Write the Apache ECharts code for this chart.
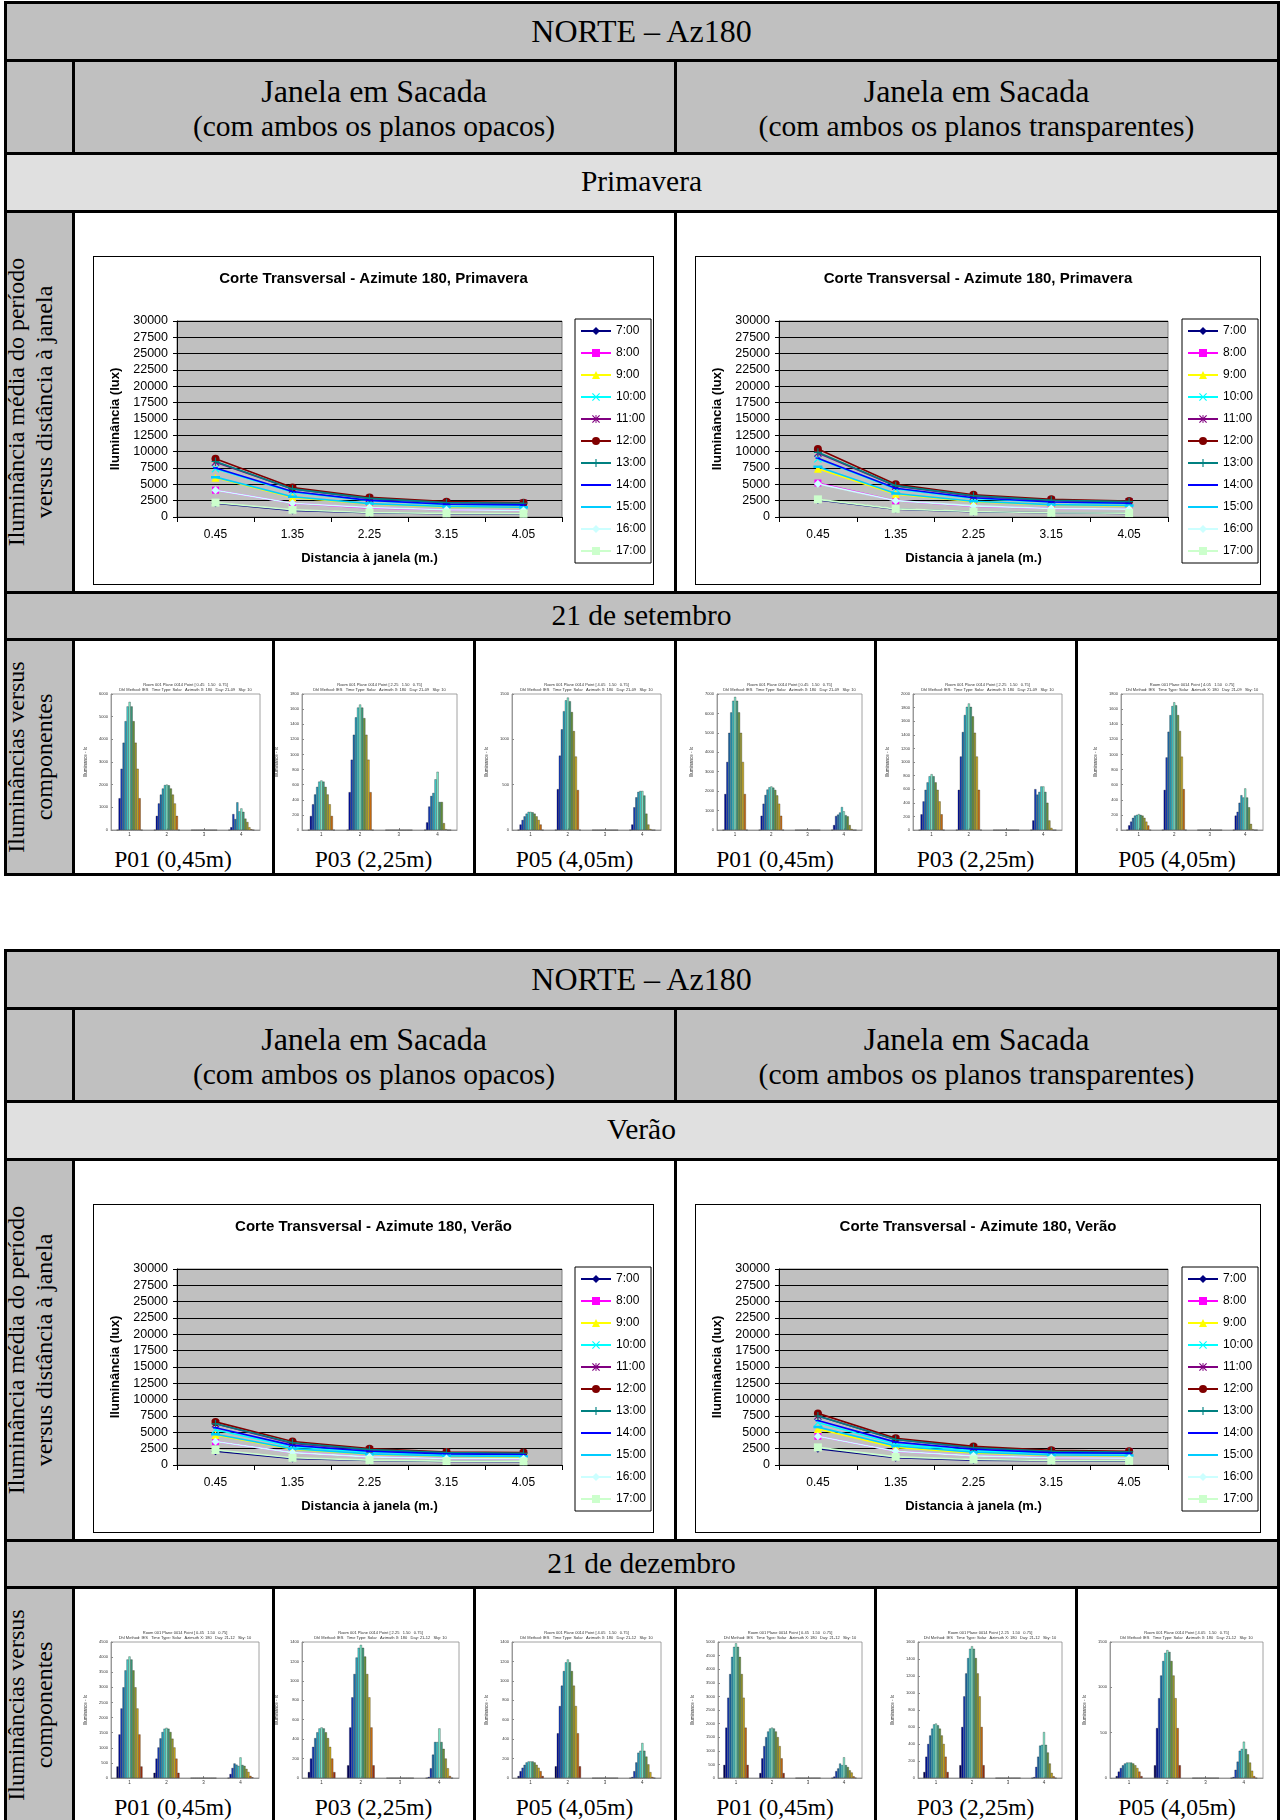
<!DOCTYPE html>
<html><head><meta charset="utf-8">
<script src="https://cdn.jsdelivr.net/npm/echarts@6/dist/echarts.min.js"></script>
<style>
html,body{margin:0;padding:0;background:#fff;}
body{width:1284px;height:1820px;overflow:hidden;position:relative;font-family:'Liberation Serif','Times New Roman',serif;}
.r{position:absolute;}
.t{position:absolute;transform:translate(-50%,-50%);white-space:nowrap;text-align:center;color:#000;}
.v{position:absolute;transform:translate(-50%,-50%) rotate(-90deg);white-space:nowrap;text-align:center;color:#000;font-size:24px;line-height:28px;}
.box{position:absolute;border:1px solid #000;box-sizing:border-box;background:#fff;}
</style></head><body>
<script>
// ---------- DATA ----------
const hours = ['7:00','8:00','9:00','10:00','11:00','12:00','13:00','14:00','15:00','16:00','17:00'];
const distances = ['0.45','1.35','2.25','3.15','4.05'];

// Primavera, planos opacos (lux) - one row per hour
const primaveraOpacos = [
  [2100,1000,650,500,450],
  [4100,2100,1400,1100,1000],
  [6000,3000,2000,1550,1450],
  [7400,3800,2500,1900,1800],
  [8400,4300,2850,2200,2100],
  [8900,4500,3000,2350,2200],
  [8500,4300,2850,2200,2100],
  [7500,3900,2550,1950,1850],
  [6100,3100,2050,1600,1500],
  [4100,2100,1450,1100,1000],
  [2200,1100,700,550,500]
];
const primaveraTransp = [
  [2600,1200,800,650,550],
  [5200,2500,1650,1300,1200],
  [7400,3500,2350,1850,1700],
  [8900,4300,2850,2250,2050],
  [9800,4750,3200,2550,2300],
  [10400,5000,3400,2700,2450],
  [9900,4800,3250,2550,2350],
  [9000,4400,2950,2300,2100],
  [7700,3600,2400,1900,1750],
  [5100,2500,1700,1300,1200],
  [2700,1250,850,650,600]
];
const veraoOpacos = [
  [2100,1000,700,550,500],
  [3600,1900,1250,1000,950],
  [4600,2400,1650,1350,1250],
  [5400,2800,1950,1600,1500],
  [6300,3300,2300,1850,1750],
  [6600,3600,2500,2000,1900],
  [6300,3400,2350,1900,1800],
  [5700,3000,2100,1700,1600],
  [4700,2500,1700,1400,1300],
  [3600,1900,1250,1000,950],
  [2300,1100,750,600,550]
];
const veraoTransp = [
  [2500,1100,750,650,600],
  [4400,2100,1400,1100,1050],
  [5500,2700,1850,1500,1400],
  [6500,3200,2200,1800,1700],
  [7500,3900,2650,2100,2000],
  [7900,4100,2850,2250,2100],
  [7500,3900,2650,2100,2000],
  [6800,3500,2400,1900,1800],
  [5800,2900,1950,1550,1450],
  [4400,2100,1400,1100,1050],
  [2700,1250,850,700,650]
];

// component bar charts: 4 components x 13 hourly bars
const components = ['1','2','3','4'];
const setOpP01 = [
  [0,1400,2700,3850,4800,5450,5650,5450,4800,3850,2700,1400,0],
  [0,620,1170,1560,1830,1980,2000,1970,1830,1560,1170,620,0],
  [0,0,0,0,0,0,0,0,0,0,0,0,0],
  [0,120,700,480,1220,820,950,800,500,350,120,30,0]
];
const setOpP03 = [
  [0,185,340,470,570,640,655,640,570,470,340,185,0],
  [0,500,930,1260,1490,1620,1660,1620,1480,1260,930,500,0],
  [0,0,0,0,0,0,0,0,0,0,0,0,0],
  [0,100,310,450,490,670,770,370,370,90,10,0,0]
];
const setOpP05 = [
  [0,60,110,150,180,200,200,195,180,150,110,60,0],
  [0,450,820,1110,1310,1430,1460,1420,1300,1090,810,440,0],
  [0,0,0,0,0,0,0,0,0,0,0,0,0],
  [0,60,250,360,420,430,430,380,180,60,10,0,0]
];
const setTrP01 = [
  [0,1850,3500,5000,6050,6650,6850,6650,6050,5000,3500,1850,0],
  [0,730,1350,1800,2080,2200,2240,2180,2060,1780,1350,730,0],
  [0,0,0,0,0,0,0,0,0,0,0,0,0],
  [0,250,720,790,900,1180,960,760,700,250,50,0,0]
];
const setTrP03 = [
  [0,230,420,590,700,790,820,790,700,590,420,230,0],
  [0,590,1080,1440,1690,1810,1860,1810,1670,1430,1080,590,0],
  [0,0,0,0,0,0,0,0,0,0,0,0,0],
  [0,140,600,520,560,640,640,560,400,140,30,0,0]
];
const setTrP05 = [
  [0,60,110,160,190,200,210,200,190,160,110,60,0],
  [0,530,960,1300,1520,1640,1690,1650,1520,1310,970,540,0],
  [0,0,0,0,0,0,0,0,0,0,0,0,0],
  [0,190,240,360,460,430,550,430,300,80,10,0,0]
];
const dezOpP01 = [
  [380,1440,2300,3000,3560,3920,4020,3920,3560,3000,2300,1440,380],
  [170,640,1010,1310,1520,1630,1660,1630,1520,1300,1010,640,170],
  [0,0,0,0,0,0,0,0,0,0,0,0,0],
  [0,130,330,480,440,400,680,430,400,300,200,70,20]
];
const dezOpP03 = [
  [60,200,320,410,470,510,520,510,470,410,320,200,60],
  [130,520,830,1070,1240,1340,1370,1340,1250,1070,830,520,130],
  [0,0,0,0,0,0,0,0,0,0,0,0,0],
  [0,10,100,240,370,370,510,370,300,200,100,20,0]
];
const dezOpP05 = [
  [20,70,105,135,160,170,170,170,160,135,105,70,20],
  [120,460,740,950,1100,1190,1220,1190,1100,950,740,460,120],
  [0,0,0,0,0,0,0,0,0,0,0,0,0],
  [0,10,70,160,260,280,360,280,220,140,60,10,0]
];
const dezTrP01 = [
  [480,1850,2950,3820,4450,4820,4950,4820,4450,3820,2950,1850,480],
  [180,720,1170,1500,1710,1820,1850,1820,1710,1500,1170,720,180],
  [0,0,0,0,0,0,0,0,0,0,0,0,0],
  [0,50,250,350,530,470,760,470,400,280,200,60,10]
];
const dezTrP03 = [
  [70,250,400,500,580,630,640,620,580,500,400,250,70],
  [150,600,960,1230,1410,1520,1550,1520,1410,1230,960,600,150],
  [0,0,0,0,0,0,0,0,0,0,0,0,0],
  [0,10,130,250,380,390,540,390,300,170,60,20,0]
];
const dezTrP05 = [
  [20,70,110,140,160,170,170,170,160,140,110,70,20],
  [140,550,880,1130,1290,1380,1410,1390,1290,1130,880,550,140],
  [0,0,0,0,0,0,0,0,0,0,0,0,0],
  [0,10,90,180,300,320,400,320,260,170,80,20,0]
];
const barAxisMaxSet = [6000,1800,1500,7000,2000,1800];
const barAxisStepSet = [1000,200,500,1000,200,200];
const barAxisMaxDez = [4500,1400,1400,5000,1600,1500];
const barAxisStepDez = [500,200,200,500,200,500];
const pointLabels = ['P01 (0,45m)','P03 (2,25m)','P05 (4,05m)','P01 (0,45m)','P03 (2,25m)','P05 (4,05m)'];
const pointCoords = ['0.45','2.25','4.05','0.45','2.25','4.05'];

// ---------- STYLE ----------
const SANS = "'Liberation Sans', Arial, sans-serif";
const SERIF = "'Liberation Serif', 'Times New Roman', serif";
const P_X = 'path://M1,0L5,4L9,0L10,1L6,5L10,9L9,10L5,6L1,10L0,9L4,5L0,1Z';
const P_PLUS = 'path://M4.3,0H5.7V4.3H10V5.7H5.7V10H4.3V5.7H0V4.3H4.3Z';
const P_AST = 'path://M1,0L5,4L9,0L10,1L6,5L10,9L9,10L5,6L1,10L0,9L4,5L0,1Z M4.4,0H5.6V10H4.4Z';
const P_DASH = 'path://M0,0L0,0.01L0.01,0ZM10,10L10,9.99L9.99,10ZM2,4.2H8V5.8H2Z';
const P_BAR = 'path://M0,0L0,0.01L0.01,0ZM10,10L10,9.99L9.99,10ZM0,3.6H10V6.4H0Z';
const seriesStyles = [
  {c:'#000080', s:'diamond', z:8},
  {c:'#ff00ff', s:'rect', z:7},
  {c:'#ffff00', s:'triangle', z:8},
  {c:'#00ffff', s:P_X, z:8},
  {c:'#800080', s:P_AST, z:8},
  {c:'#800000', s:'circle', z:8},
  {c:'#008080', s:P_PLUS, z:8},
  {c:'#0000ff', s:P_DASH, z:8},
  {c:'#00ccff', s:P_BAR, z:9},
  {c:'#ccffff', s:'diamond', z:8},
  {c:'#ccffcc', s:'rect', z:8}
];
const barColors = ['#000060','#0010a0','#1840c0','#2070b0','#2aa0c0','#40d0d0','#80f0d0','#40a080','#6a9a40','#a0a030','#d0b020','#d07010','#a03010'];

// ---------- LAYOUT HELPERS ----------
const body = document.body;
function el(cls, css, html){const d=document.createElement('div');d.className=cls;Object.assign(d.style,css);if(html!==undefined)d.innerHTML=html;body.appendChild(d);return d;}
function rect(x0,y0,x1,y1,c){return el('r',{left:x0+'px',top:y0+'px',width:(x1-x0)+'px',height:(y1-y0)+'px',background:c});}
function hline(y,x0,x1){el('r',{left:(x0-1.5)+'px',top:(y-1.5)+'px',width:(x1-x0+3)+'px',height:'3px',background:'#000',zIndex:5});}
function vline(x,y0,y1){el('r',{left:(x-1.5)+'px',top:(y0-1.5)+'px',width:'3px',height:(y1-y0+3)+'px',background:'#000',zIndex:5});}
function txt(s,cx,cy,size,lh){return el('t',{left:cx+'px',top:cy+'px',fontSize:size+'px',lineHeight:(lh||size*1.15)+'px',fontFamily:SERIF},s);}
const plain = v => String(v);

function lineOption(title,rows,gridW,legendLeft){
  return {
    animation:false,
    backgroundColor:'#fff',
    title:{text:title,left:'center',top:9,textStyle:{fontFamily:SANS,fontSize:15,fontWeight:'bold',color:'#000'}},
    grid:{left:83,top:64,width:gridW,height:196,show:true,backgroundColor:'#c0c0c0',borderColor:'#808080',borderWidth:1,outerBoundsMode:'none',containLabel:false},
    legend:{orient:'vertical',left:legendLeft,top:62,padding:[6,5,6,5],itemGap:10,itemWidth:30,itemHeight:10,
      borderColor:'#000',borderWidth:1,borderRadius:0,backgroundColor:'#fff',
      textStyle:{fontFamily:SANS,fontSize:12,color:'#000',lineHeight:12},data:hours},
    xAxis:{type:'category',data:distances,boundaryGap:true,
      axisLine:{lineStyle:{color:'#000',width:1}},axisTick:{show:true,length:5,lineStyle:{color:'#000'}},
      axisLabel:{fontFamily:SANS,fontSize:12,color:'#000',margin:12},splitLine:{show:false},
      name:'Distancia à janela (m.)',nameLocation:'middle',nameGap:35,
      nameTextStyle:{fontFamily:SANS,fontSize:13,fontWeight:'bold',color:'#000'}},
    yAxis:{type:'value',min:0,max:30000,interval:2500,
      axisLine:{show:true,lineStyle:{color:'#000'}},axisTick:{show:true,length:4,lineStyle:{color:'#000'}},
      axisLabel:{fontFamily:SANS,fontSize:12.5,color:'#000',margin:9,formatter:plain},
      splitLine:{show:true,lineStyle:{color:'#000',width:1}},
      name:'Iluminância (lux)',nameLocation:'middle',nameGap:48,nameRotate:90,
      nameTextStyle:{fontFamily:SANS,fontSize:13,fontWeight:'bold',color:'#000'}},
    series:hours.map((h,i)=>({name:h,type:'line',data:rows[i],symbol:seriesStyles[i].s,symbolSize:seriesStyles[i].z,
      itemStyle:{color:seriesStyles[i].c},lineStyle:{color:seriesStyles[i].c,width:1.6},z:2+i}))
  };
}

function barOption(groups,max,step,pt,day,offL,offR){
  const cx=(offL+offR)/2;
  return {
    animation:false,
    backgroundColor:'transparent',
    grid:{left:offL,top:53,width:offR-offL,height:136,show:true,backgroundColor:'#fff',borderColor:'#8a8a8a',borderWidth:0.8,outerBoundsMode:'none',containLabel:false},
    graphic:[
      {type:'text',x:cx,y:44,silent:true,style:{text:'Room 001 Plane 0014 Point [ '+pt+'   1.50   0.75]',fontSize:4,fontFamily:SANS,fill:'#333',align:'center',verticalAlign:'middle'}},
      {type:'text',x:cx,y:48.5,silent:true,style:{text:'Dhl Method: IES   Time Type: Solar   Azimuth X: 180   Day: '+day+'   Sky: 10',fontSize:4,fontFamily:SANS,fill:'#333',align:'center',verticalAlign:'middle'}}
    ],
    xAxis:{type:'category',data:components,boundaryGap:true,
      axisLine:{lineStyle:{color:'#8a8a8a',width:0.8}},axisTick:{show:true,inside:true,alignWithLabel:true,length:2,lineStyle:{color:'#8a8a8a'}},
      axisLabel:{fontFamily:SANS,fontSize:4.5,color:'#333',margin:2},splitLine:{show:false},
      name:'Component',nameLocation:'middle',nameGap:8,nameTextStyle:{fontFamily:SANS,fontSize:4.5,color:'#333'}},
    yAxis:{type:'value',min:0,max:max,interval:step,
      axisLine:{show:true,lineStyle:{color:'#8a8a8a',width:0.8}},axisTick:{show:true,inside:true,length:2,lineStyle:{color:'#8a8a8a'}},
      axisLabel:{fontFamily:SANS,fontSize:4,color:'#333',margin:3,formatter:plain},splitLine:{show:false},
      name:'Illuminance - lx',nameLocation:'middle',nameGap:16,nameRotate:90,nameTextStyle:{fontFamily:SANS,fontSize:4.5,color:'#333'}},
    series:barColors.map((c,i)=>({type:'bar',data:groups.map(g=>g[i]),barGap:'0%',barCategoryGap:'30%',
      itemStyle:{color:c,borderColor:'#111',borderWidth:0.3}}))
  };
}

const XL=5, XC1=73, XMID=675, XR=1278;
const barCols=[73,273,474,675,875,1076,1278];
const rowOff=[0,58,151,209,590,637,872];

function makeTable(top,season,dateTxt,lineTitle,lineLeftData,lineRightData,barSets,barMax,barStep,day,offLs,offRs){
  const r=rowOff.map(o=>top+o);
  rect(XL,r[0],XR,r[1],'#c0c0c0');
  rect(XL,r[1],XR,r[2],'#c0c0c0');
  rect(XL,r[2],XR,r[3],'#e0e0e0');
  rect(XL,r[3],XC1,r[4],'#c0c0c0'); rect(XC1,r[3],XR,r[4],'#fff');
  rect(XL,r[4],XR,r[5],'#c0c0c0');
  rect(XL,r[5],XC1,r[6],'#c0c0c0'); rect(XC1,r[5],XR,r[6],'#fff');
  r.forEach(y=>hline(y,XL,XR));
  vline(XL,r[0],r[6]); vline(XR,r[0],r[6]);
  [[1,2],[3,4],[5,6]].forEach(([a,b])=>{vline(XC1,r[a],r[b]);vline(XMID,r[a],r[b]);});
  [273,474,875,1076].forEach(x=>vline(x,r[5],r[6]));

  txt('NORTE – Az180',(XL+XR)/2,(r[0]+r[1])/2,32);
  const hy=(r[1]+r[2])/2+2.5;
  txt('Janela em Sacada',(XC1+XMID)/2,hy-18,32);
  txt('(com ambos os planos opacos)',(XC1+XMID)/2,hy+18,29.5);
  txt('Janela em Sacada',(XMID+XR)/2,hy-18,32);
  txt('(com ambos os planos transparentes)',(XMID+XR)/2,hy+18,29.5);
  txt(season,(XL+XR)/2,(r[2]+r[3])/2,29.5);
  txt(dateTxt,(XL+XR)/2,(r[4]+r[5])/2,29.5);
  el('v',{left:'30px',top:((r[3]+r[4])/2)+'px',fontFamily:SERIF},'Iluminância média do período<br>versus distância à janela');
  el('v',{left:'30px',top:((r[5]+r[6])/2)+'px',fontFamily:SERIF},'Iluminâncias versus<br>componentes');

  // line charts
  const b1=el('box',{left:'93px',top:(r[3]+45)+'px',width:'561px',height:'329px'});
  echarts.init(b1,null,{renderer:'canvas'}).setOption(lineOption(lineTitle,lineLeftData,385,481));
  const b2=el('box',{left:'695px',top:(r[3]+45)+'px',width:'566px',height:'329px'});
  echarts.init(b2,null,{renderer:'canvas'}).setOption(lineOption(lineTitle,lineRightData,389,486));

  // bar charts
  for(let i=0;i<6;i++){
    const x0=barCols[i]+2, w=barCols[i+1]-barCols[i]-3;
    const d=el('r',{left:x0+'px',top:(r[5]+2)+'px',width:w+'px',height:'200px'});
    echarts.init(d,null,{renderer:'canvas'}).setOption(barOption(barSets[i],barMax[i],barStep[i],pointCoords[i],day,offLs[i]-2,offRs[i]-2));
    txt(pointLabels[i],(barCols[i]+barCols[i+1])/2,r[5]+221,23.5);
  }
}

makeTable(2,'Primavera','21 de setembro','Corte Transversal - Azimute 180, Primavera',
  primaveraOpacos,primaveraTransp,[setOpP01,setOpP03,setOpP05,setTrP01,setTrP03,setTrP05],
  barAxisMaxSet,barAxisStepSet,'21-09',[38,29,38,42,38,45],[187,184,187,187,187,187]);
makeTable(950,'Verão','21 de dezembro','Corte Transversal - Azimute 180, Verão',
  veraoOpacos,veraoTransp,[dezOpP01,dezOpP03,dezOpP05,dezTrP01,dezTrP03,dezTrP05],
  barAxisMaxDez,barAxisStepDez,'21-12',[38,29,38,43,43,34],[186,186,187,187,187,187]);
</script>
</body></html>
